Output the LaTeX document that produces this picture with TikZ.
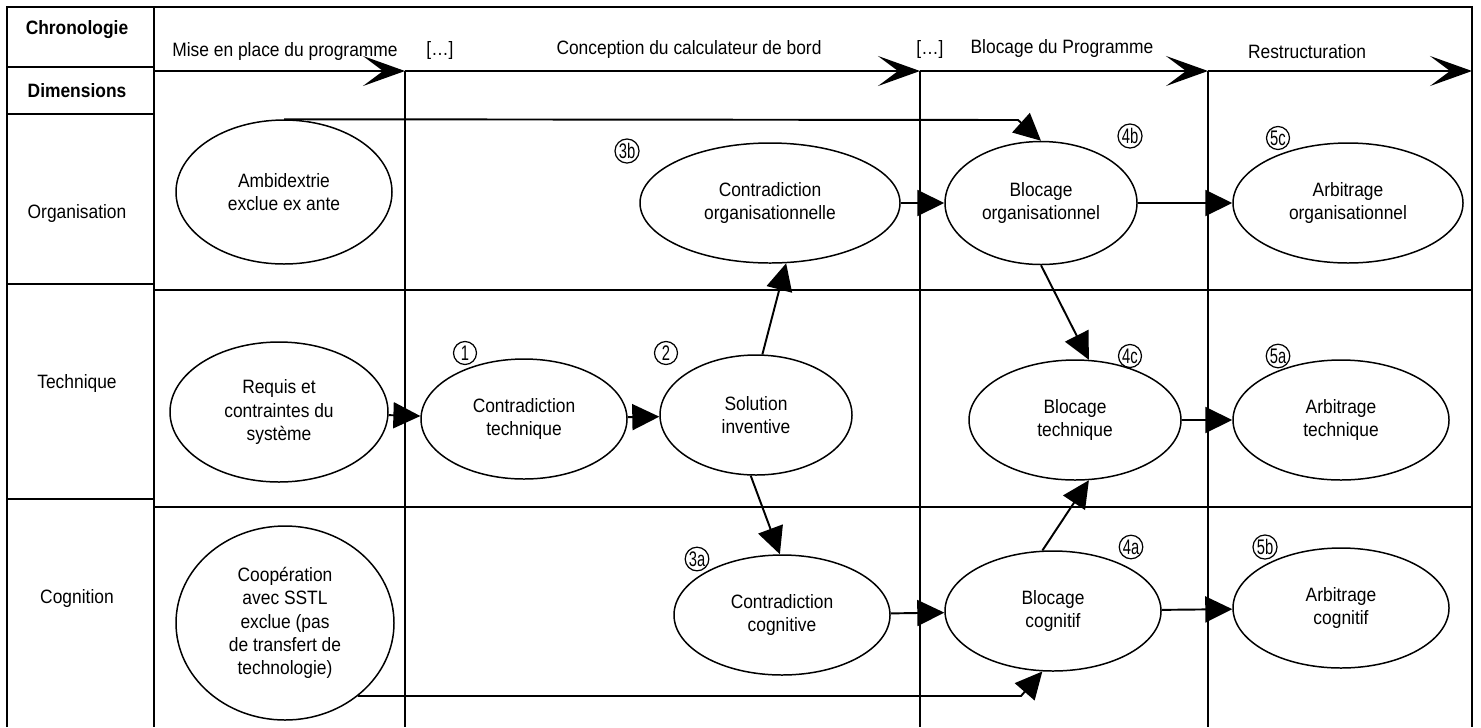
\documentclass[tikz,border=0pt]{standalone}
\usepackage{fontspec}
\setmainfont{Liberation Sans}[FakeStretch=0.9]
\newfontfamily\numfont{Liberation Sans}[FakeStretch=0.7]
\usetikzlibrary{arrows.meta,shapes.geometric}
\newcommand{\diagfont}{\fontsize{11pt}{13.2pt}\selectfont}

\begin{document}
\begin{tikzpicture}
  [line width=1pt,
  every node/.style = {font=\diagfont},
  head/.style = {font=\diagfont\bfseries},
  step box/.style = {ellipse, draw, align=center, inner sep=0pt,
                     line width=0.85pt},
  num/.style = {circle, draw, inner sep=0.3pt, minimum size=0.46cm,
                line width=0.7pt, font=\numfont\fontsize{12pt}{12pt}\selectfont},
  arr/.style = {-{Triangle[length=0.54cm,width=0.52cm]}, line width=1.1pt},
  time/.style = {-{Stealth[length=0.84cm,width=0.6cm,inset=0.4cm]},
                 line width=1.2pt}]
  \useasboundingbox (0,0) rectangle (29.62,-14.54);
  % Cadre et colonne de gauche
  \draw[line width=1.6pt] (0.14,-14.54) -- (0.14,-0.14) -- (29.44,-0.14)
    -- (29.44,-14.54);
  \draw[line width=1.6pt] (3.08,-0.14) -- (3.08,-14.54);
  \foreach \y in {-1.34,-2.28,-5.68,-9.98}
    \draw[line width=1.6pt] (0.14,\y) -- (3.08,\y);
  \node[head] (chrono) at (1.54,-0.60) {Chronologie};
  \node[head] (dims) at (1.54,-1.82) {Dimensions};
  \node (orga) at (1.54,-4.26) {Organisation};
  \node (tech) at (1.54,-7.66) {Technique};
  \node (cogn) at (1.54,-11.96) {Cognition};
  % Lignes des dimensions
  \draw (3.08,-5.80) -- (29.44,-5.80);
  \draw (3.08,-10.14) -- (29.44,-10.14);
  % Chronologie
  \coordinate (t0) at (3.08,-1.42);
  \coordinate (t1) at (8.10,-1.42);
  \coordinate (t2) at (18.40,-1.42);
  \coordinate (t3) at (24.16,-1.42);
  \coordinate (t4) at (29.44,-1.42);
  \foreach \a/\b in {t0/t1,t1/t2,t2/t3,t3/t4}
    \draw[time] (\a) -- (\b);
  \foreach \t in {t1,t2,t3}
    \draw (\t) -- (\t |- 0,-14.54);
  \node (ph1) at (5.70,-1.02) {Mise en place du programme};
  \node (dots1) at (8.80,-1.00) {[\dots]};
  \node (ph2) at (13.78,-0.98) {Conception du calculateur de bord};
  \node (dots2) at (18.60,-0.98) {[\dots]};
  \node (ph3) at (21.24,-0.96) {Blocage du Programme};
  \node (ph4) at (26.14,-1.04) {Restructuration};
  % Situation initiale
  \node[step box, minimum width=4.32cm, minimum height=2.88cm] (amb)
    at (5.68,-3.84) {Ambidextrie\\exclue ex ante};
  \node[step box, minimum width=4.36cm, minimum height=2.80cm] (req)
    at (5.58,-8.24) {Requis et\\contraintes du\\système};
  \node[step box, minimum width=4.36cm, minimum height=3.88cm] (coop)
    at (5.70,-12.46) {Coopération\\avec SSTL\\exclue (pas\\de transfert de\\technologie)};
  % Conception
  \node[step box, minimum width=4.12cm, minimum height=2.40cm] (ctech)
    at (10.48,-8.38) {Contradiction\\technique};
  \node[step box, minimum width=3.84cm, minimum height=2.40cm] (sol)
    at (15.12,-8.30) {Solution\\inventive};
  \node[step box, minimum width=5.20cm, minimum height=2.40cm] (corg)
    at (15.40,-4.06) {Contradiction\\organisationnelle};
  \node[step box, minimum width=4.32cm, minimum height=2.40cm] (ccog)
    at (15.64,-12.30) {Contradiction\\cognitive};
  % Blocage
  \node[step box, minimum width=3.84cm, minimum height=2.46cm] (borg)
    at (20.82,-4.06) {Blocage\\organisationnel};
  \node[step box, minimum width=4.24cm, minimum height=2.40cm] (btech)
    at (21.50,-8.40) {Blocage\\technique};
  \node[step box, minimum width=4.32cm, minimum height=2.40cm] (bcog)
    at (21.06,-12.22) {Blocage\\cognitif};
  % Restructuration
  \node[step box, minimum width=4.60cm, minimum height=2.40cm] (aorg)
    at (26.96,-4.06) {Arbitrage\\organisationnel};
  \node[step box, minimum width=4.32cm, minimum height=2.40cm] (atech)
    at (26.82,-8.40) {Arbitrage\\technique};
  \node[step box, minimum width=4.32cm, minimum height=2.40cm] (acog)
    at (26.82,-12.16) {Arbitrage\\cognitif};
  % Numeros des etapes
  \node[num] (n1) at (9.30,-7.06) {1};
  \node[num] (n2) at (13.32,-7.06) {2};
  \node[num] (n3a) at (13.94,-11.18) {3a};
  \node[num] (n3b) at (12.54,-3.02) {3b};
  \node[num] (n4a) at (22.62,-10.94) {4a};
  \node[num] (n4b) at (22.60,-2.72) {4b};
  \node[num] (n4c) at (22.60,-7.12) {4c};
  \node[num] (n5a) at (25.56,-7.12) {5a};
  \node[num] (n5b) at (25.30,-10.94) {5b};
  \node[num] (n5c) at (25.56,-2.76) {5c};
  % Fleches
  \coordinate (kink1) at (20.36,-2.40);
  \coordinate (kink2) at (20.42,-13.92);
  \draw[arr] (req) -- (ctech);
  \draw[arr] (ctech) -- (sol);
  \draw[arr] (sol.84) -- (corg.-75);
  \draw[arr] (sol.-95) -- (ccog.92);
  \draw[arr] (corg) -- (borg);
  \draw[arr] (ccog) -- (bcog);
  \draw[arr] (borg) -- (aorg);
  \draw[arr] (btech) -- (atech);
  \draw[arr] (bcog) -- (acog);
  \draw[arr] (borg.south) -- (btech.77);
  \draw[arr] (bcog.100) -- (btech.-77);
  \draw[arr] (amb.north) -- (kink1) -- (borg.north);
  \draw[arr] (coop.-45) -- (kink2) -- (bcog.-100);
\end{tikzpicture}
\end{document}
